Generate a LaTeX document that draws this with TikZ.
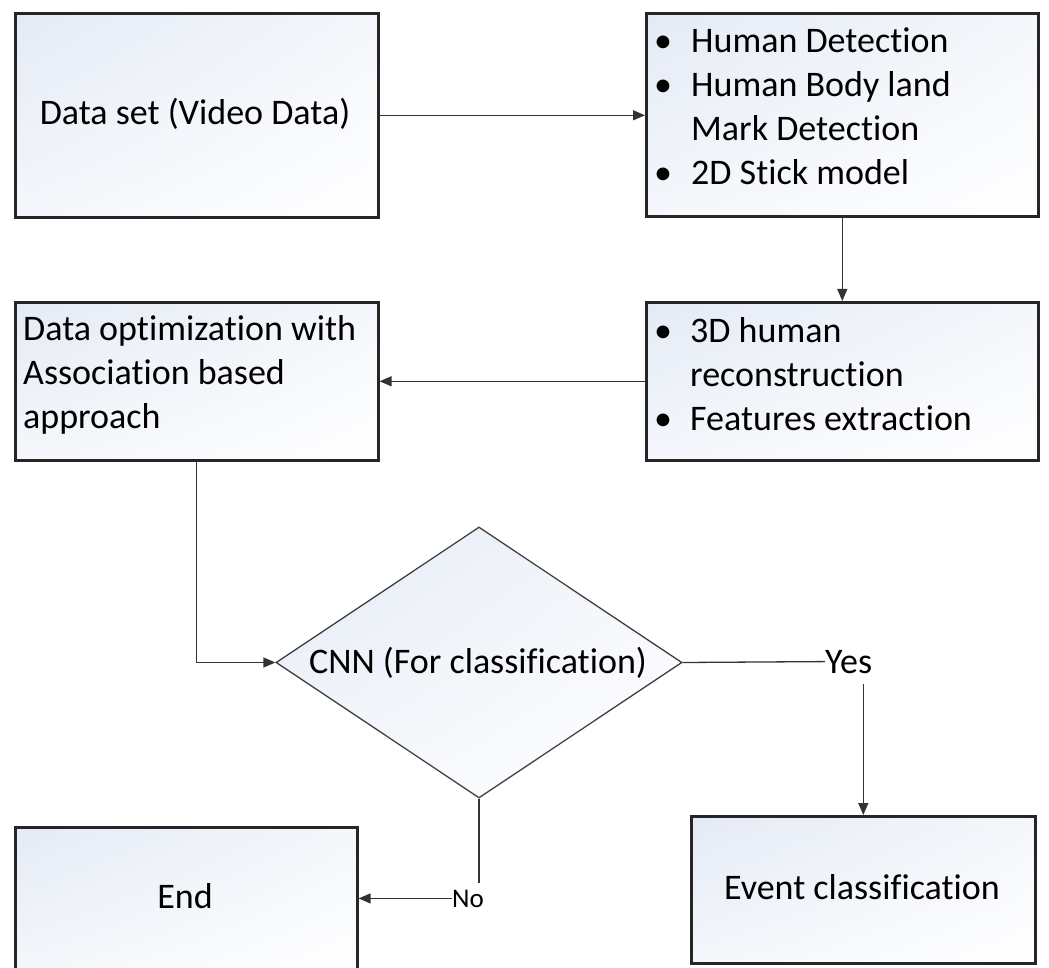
\documentclass[tikz,border=0pt]{standalone}
\usepackage{fontspec}
\setmainfont{Carlito}[Ligatures={NoCommon}]
\usetikzlibrary{arrows.meta,shapes.geometric,shadings}
\definecolor{boxblue}{HTML}{E4EAF5}
\begin{document}
\begin{tikzpicture}[x=1pt,y=1pt,
  grad/.style={shading=bilinear interpolation, upper left=boxblue, upper right=boxblue!40, lower left=boxblue!40, lower right=white},
  box/.style={draw=black!85, line width=2.6pt, grad, inner sep=0pt, anchor=north west},
  dia/.style={diamond, draw=black!75, line width=1.3pt, grad, inner sep=0pt},
  txt/.style={font=\fontsize{36}{44}\selectfont, inner sep=0pt, anchor=base west, text=black},
  lbl/.style={inner sep=0pt, anchor=base west, text=black},
  conn/.style={draw=black!80, line width=1.3pt},
  arr/.style={conn, -{Triangle[length=12pt,width=10pt]}}
]
\useasboundingbox (0,-968) rectangle (1049,0);

% boxes
\node[box, minimum width=363pt, minimum height=204pt] (data) at (14,-12) {};
\node[box, minimum width=392pt, minimum height=203pt] (det) at (645,-12) {};
\node[box, minimum width=392pt, minimum height=158pt] (feat) at (645,-301) {};
\node[box, minimum width=363pt, minimum height=158pt] (opt) at (14,-301) {};
\node[dia, minimum width=406pt, minimum height=271pt] (cnn) at (479,-662.5) {};
\node[box, minimum width=342pt, minimum height=144pt] (endbox) at (14,-826) {};
\node[box, minimum width=344pt, minimum height=147pt] (event) at (690,-815) {};

% texts
\node[txt, anchor=base] (tdata) at (195,-125) {Data set (Video Data)};

\node[txt] (b1) at (654,-53) {•};
\node[txt] (t1) at (691,-53) {Human Detection};
\node[txt] (b2) at (654,-97) {•};
\node[txt] (t2) at (691,-97) {Human Body land};
\node[txt] (t3) at (691,-141) {Mark Detection};
\node[txt] (b4) at (654,-185) {•};
\node[txt] (t4) at (691,-185) {2D Stick model};

\node[txt] (b5) at (654,-342) {•};
\node[txt] (t5) at (690,-342) {3D human};
\node[txt] (t6) at (690,-386) {reconstruction};
\node[txt] (b7) at (654,-430) {•};
\node[txt] (t7) at (690,-430) {Features extraction};

\node[txt] (t8) at (23,-340) {Data optimization with};
\node[txt] (t9) at (23,-384) {Association based};
\node[txt] (t10) at (23,-428) {approach};

\node[txt, anchor=base] (tcnn) at (478,-673) {CNN (For classification)};
\node[txt, anchor=base] (tend) at (185,-908) {End};
\node[txt, anchor=base] (tevent) at (862,-899) {Event classification};

\node[lbl, font=\fontsize{36}{44}\selectfont] (yes) at (825,-673) {Yes};
\node[lbl, font=\fontsize{27}{32}\selectfont] (no) at (452,-907) {No};

% connectors
\draw[arr] (data.east) -- (data.east -| det.west);
\draw[arr] (det.south) -- (feat.north);
\draw[arr] (feat.west) -- (feat.west -| opt.east);
\draw[arr] (opt.south) |- (cnn.west);
\draw[conn] (cnn.east) -- (yes.west);
\draw[arr] ([yshift=-11pt]yes.south -| event.north) -- (event.north);
\draw[conn] (cnn.south) -- ++(0,-84);
\draw[arr] (no.west) -- (no.west -| endbox.east);
\end{tikzpicture}
\end{document}
